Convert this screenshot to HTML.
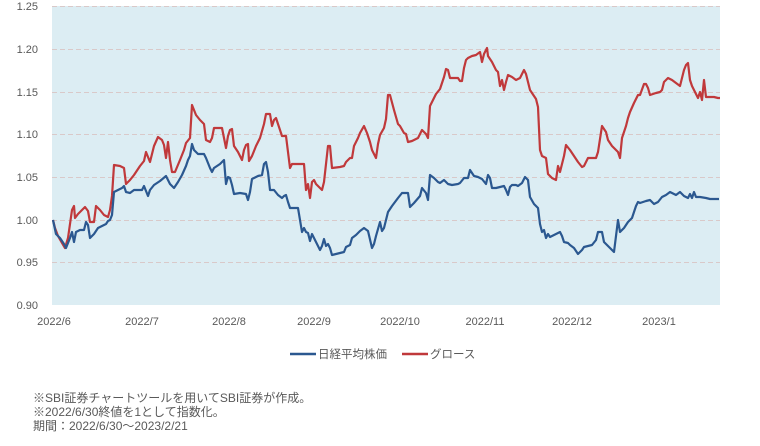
<!DOCTYPE html>
<html><head><meta charset="utf-8"><style>
body{margin:0;background:#fff;width:760px;height:441px;overflow:hidden}
svg text{font-family:"Liberation Sans","Noto Sans CJK JP",sans-serif;fill:#595959}
</style></head><body>
<svg width="760" height="441" viewBox="0 0 760 441">
<rect x="52" y="6" width="668" height="299" fill="#dcedf3"/>
<g stroke="#d9c9c9" stroke-dasharray="5,3" stroke-width="1">
<line x1="52" x2="720" y1="6.5" y2="6.5"/><line x1="52" x2="720" y1="49.5" y2="49.5"/><line x1="52" x2="720" y1="92.5" y2="92.5"/><line x1="52" x2="720" y1="134.5" y2="134.5"/><line x1="52" x2="720" y1="177.5" y2="177.5"/><line x1="52" x2="720" y1="220.5" y2="220.5"/><line x1="52" x2="720" y1="262.5" y2="262.5"/>
</g>
<g font-size="11" text-anchor="end">
<text x="38" y="10">1.25</text><text x="38" y="53">1.20</text><text x="38" y="96">1.15</text><text x="38" y="138">1.10</text><text x="38" y="181">1.05</text><text x="38" y="224">1.00</text><text x="38" y="266">0.95</text><text x="38" y="309">0.90</text>
</g>
<g font-size="11" text-anchor="middle">
<text x="54" y="325">2022/6</text><text x="142" y="325">2022/7</text><text x="229" y="325">2022/8</text><text x="314" y="325">2022/9</text><text x="400" y="325">2022/10</text><text x="485" y="325">2022/11</text><text x="572" y="325">2022/12</text><text x="659" y="325">2023/1</text>
</g>
<polyline fill="none" stroke="#c0393b" stroke-width="2.2" stroke-linejoin="round" points="53,220 55,228 58,236 62,243 65,248 68,238 72,210 74,206 75,218 78,214 82,210 85,207 88,211 90,222 94,222 96,206 100,210 104,215 108,217 110,210 112,196 114,165 120,166 124,168 126,184 130,180 134,175 140,166 144,161 146,152 150,162 154,146 158,137 162,140 164,145 166,158 168,142 170,160 172,172 175,172 180,160 184,150 186,143 190,138 192,105 196,115 200,120 204,124 206,140 210,142 212,138 214,128 220,128 222,128 226,148 228,136 230,130 232,129 234,146 238,152 242,160 244,150 246,145 248,144 249,161 252,156 256,146 260,138 264,124 266,114 270,114 272,126 274,120 276,118 278,124 282,136 286,136 290,168 292,164 300,164 304,164 306,190 308,184 310,198 312,182 314,180 316,184 322,190 324,182 328,146 330,146 332,168 340,167 344,166 346,162 350,158 352,158 354,146 358,138 360,133 364,126 367,133 370,142 372,150 376,158 378,144 380,135 384,128 386,119 388,95 390,95 394,110 398,124 400,126 404,133 406,134 408,142 412,141 418,138 422,130 426,134 428,138 430,106 434,98 436,94 440,89 444,77 446,69 448,70 450,78 454,78 458,78 460,81 462,81 464,68 466,60 468,58 472,56 476,55 480,52 482,62 484,54 487,48 488,56 492,62 496,70 498,72 500,86 502,80 504,90 506,82 508,75 512,77 516,80 520,78 524,70 526,74 530,90 536,99 538,107 540,150 542,156 546,158 548,174 552,178 556,180 558,166 560,172 564,156 566,145 570,150 574,156 578,162 582,167 584,166 588,158 596,158 598,152 602,126 606,132 608,140 612,146 618,152 620,158 622,138 626,126 628,118 630,112 634,103 638,95 640,95 644,84 646,84 648,88 650,95 656,93 660,92 662,90 664,82 668,78 672,80 676,83 680,86 684,70 686,65 688,63 690,80 692,86 696,94 698,98 700,92 702,100 704,80 706,97 710,97 714,97 718,98 720,98"/>
<polyline fill="none" stroke="#2b5890" stroke-width="2.2" stroke-linejoin="round" points="53,220 56,234 60,238 64,244 66,248 70,238 72,232 74,242 76,232 80,230 84,230 86,222 88,225 90,238 94,234 98,228 102,226 106,224 108,221 110,220 112,215 114,192 118,190 122,188 124,186 126,192 130,193 134,190 142,190 144,186 146,191 148,196 150,190 154,185 160,181 166,176 170,184 174,188 178,182 182,175 186,166 188,160 190,156 192,144 194,150 198,154 204,154 206,158 210,168 212,172 214,168 220,164 222,162 224,160 226,184 228,177 230,178 232,185 234,194 240,193 246,194 248,200 250,192 252,179 258,176 262,175 264,164 266,162 268,172 270,190 274,190 278,195 282,198 284,196 286,195 288,202 290,208 294,208 298,208 302,232 304,228 306,232 308,233 310,241 312,234 314,238 316,242 320,250 322,246 324,239 326,246 328,244 330,248 332,255 340,253 344,252 346,247 350,245 352,238 356,235 360,231 364,228 368,231 372,248 374,244 376,236 380,222 382,231 384,228 388,212 392,206 398,198 402,193 406,193 408,193 410,207 414,203 420,196 422,188 426,193 428,200 430,175 434,178 438,182 440,183 444,180 448,184 452,185 458,184 460,183 464,178 468,178 470,170 474,176 478,177 482,179 486,184 488,175 490,178 492,188 496,188 500,187 504,186 506,190 508,195 510,187 512,185 516,185 518,186 522,183 525,177 528,180 530,197 534,204 538,208 540,224 542,232 544,230 546,238 548,234 550,237 556,234 560,232 562,236 564,242 568,243 570,245 574,248 576,251 578,254 582,250 584,247 588,246 592,245 596,240 598,232 602,232 604,242 608,246 612,250 614,252 618,220 620,232 624,228 628,222 632,218 636,206 638,202 640,203 646,201 650,200 654,204 658,202 662,197 666,195 670,192 672,193 676,195 680,192 684,196 688,198 690,194 692,198 694,192 696,197 700,197 706,198 710,199 719,199"/>
<line x1="290" x2="316" y1="354" y2="354" stroke="#2b5890" stroke-width="2.5"/>
<text x="318" y="358" font-size="11.5">日経平均株価</text>
<line x1="402" x2="428" y1="354" y2="354" stroke="#c0393b" stroke-width="2.5"/>
<text x="430" y="358" font-size="11.5">グロース</text>
<g font-size="12">
<text x="33" y="402">※SBI証券チャートツールを用いてSBI証券が作成。</text>
<text x="33" y="416">※2022/6/30終値を1として指数化。</text>
<text x="33" y="430">期間：2022/6/30～2023/2/21</text>
</g>
</svg>
</body></html>
